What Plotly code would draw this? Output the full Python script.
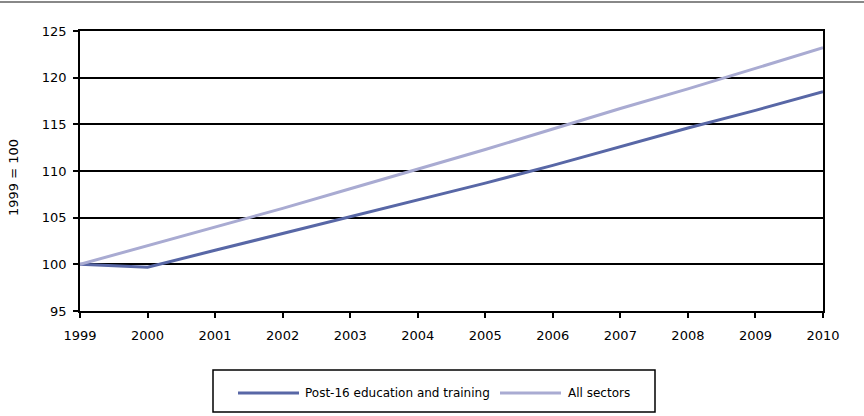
import plotly.graph_objects as go

years = [1999, 2000, 2001, 2002, 2003, 2004, 2005, 2006, 2007, 2008, 2009, 2010]
post16 = [100, 99.7, 101.5, 103.3, 105.1, 106.9, 108.7, 110.6, 112.6, 114.6, 116.5, 118.5]
all_sectors = [100, 102.0, 104.0, 106.0, 108.1, 110.2, 112.3, 114.5, 116.7, 118.8, 121.0, 123.2]
series_names = ["Post-16 education and training", "All sectors"]
colors = ["#5867a6", "#a9abd2"]

fig = go.Figure()
for name, vals, col in zip(series_names, [post16, all_sectors], colors):
    fig.add_trace(go.Scatter(x=years, y=vals, mode="lines", name=name,
                             line=dict(color=col, width=3), showlegend=False))

L, R, T, B = 80, 41, 31, 105
PW, PH = 864 - L - R, 416 - T - B

def px(x):
    return (x - L) / PW

def py(y):
    return (T + PH - y) / PH

shapes = [
    dict(type="line", xref="paper", yref="paper", x0=px(0), x1=px(864),
         y0=py(2), y1=py(2), line=dict(color="#888888", width=2)),
    dict(type="rect", xref="paper", yref="paper",
         x0=px(213), x1=px(655), y0=py(412), y1=py(370),
         line=dict(color="black", width=1.5)),
]
annotations = [
    dict(text="1999 = 100", xref="paper", yref="paper", x=px(13), y=py(178),
         textangle=-90, showarrow=False, font=dict(size=13), xanchor="center", yanchor="middle"),
]
leg_pos = [(238, 299, 303), (500, 561, 566)]
for (x0, x1, tx), name, col in zip(leg_pos, series_names, colors):
    shapes.append(dict(type="line", xref="paper", yref="paper", x0=px(x0), x1=px(x1),
                       y0=py(393), y1=py(393), line=dict(color=col, width=3)))
    annotations.append(dict(text=name, xref="paper", yref="paper", x=px(tx), y=py(393),
                            xanchor="left", yanchor="middle", showarrow=False,
                            font=dict(size=12)))

fig.update_layout(
    width=864, height=416,
    margin=dict(l=L, r=R, t=T, b=B),
    paper_bgcolor="white", plot_bgcolor="white",
    font=dict(family="DejaVu Sans", size=13, color="black"),
    showlegend=False,
    xaxis=dict(range=[1999, 2010], tickmode="array", tickvals=years, ticktext=[str(y) for y in years],
               showgrid=False, showline=True, linecolor="black", linewidth=1.5, mirror=True,
               ticks="outside", ticklen=5, tickcolor="black", tickwidth=1.5, zeroline=False,
               ticklabelstandoff=7, automargin=False, tickfont=dict(size=13)),
    yaxis=dict(range=[95, 125], dtick=5, showgrid=True, gridcolor="black", gridwidth=1.5,
               showline=True, linecolor="black", linewidth=1.5, mirror=True,
               ticks="outside", ticklen=5, tickcolor="black", tickwidth=1.5, zeroline=False,
               ticklabelstandoff=4, automargin=False, tickfont=dict(size=13)),
    shapes=shapes,
    annotations=annotations,
)
fig.write_html("out.html")
